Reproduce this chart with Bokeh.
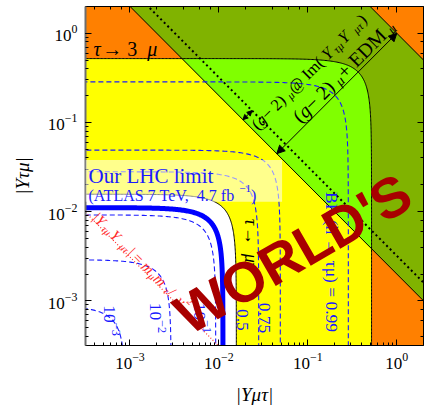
import numpy as np
from math import pi, cos, sin
from bokeh.plotting import figure
from bokeh.models import (Range1d, LogAxis, LogTicker, Label, Arrow, NormalHead, BoxAnnotation,
                          CustomJSTickFormatter)
from bokeh.embed import file_html
from bokeh.resources import INLINE

# ---------------------------------------------------------------- data
x_lim = (10**-3.5, 10**0.3)          # |Y_mu tau|
y_lim = (10**-3.5, 10**0.3)          # |Y_tau mu|

# BR(h -> tau mu) contours, given as sqrt(|Y_mt|^2 + |Y_tm|^2)
br_exponents = [-3, -2, -1]          # labelled as powers of ten
br_values = ["0.5", "0.75", "0.99"]  # labelled as plain numbers
br_radius = [0.00088, 0.0029, 0.0092, 0.028, 0.049, 0.285]

lhc_limit_radius = 0.0111            # our LHC limit
tau_mugamma_radius = 0.0157          # tau -> mu gamma
tau_3mu_radius = 0.52                # tau -> 3 mu
g2_products = [2.0e-3, 1.0]          # |Y_tm Y_mt| band, (g-2)_mu + EDM_mu
g2_central_product = 3.2e-3          # dotted central line
natural_product = 3.1e-6             # m_mu m_tau / v^2

# ---------------------------------------------------------------- style
YELLOW, ORANGE = "#FFFF00", "#FF8000"
LIGHT_GREEN, DARK_GREEN = "#80FF00", "#80B300"
BLUE, RED, WATERMARK = "#1a1aff", "#ff2a2a", "#a80000"
SERIF = "Liberation Serif"

p = figure(width=424, height=407, x_axis_type="log", y_axis_type="log",
           x_range=Range1d(*x_lim), y_range=Range1d(*y_lim),
           output_backend="svg", toolbar_location=None,
           min_border_left=85, min_border_right=1, min_border_top=6, min_border_bottom=60)
p.grid.visible = False
p.background_fill_color = YELLOW
p.outline_line_color = "black"

FAR_LO, FAR_HI = 1e-7, 1e4


def quarter_arc(r, t0=-7.0, t1=7.0, n=900):
    """Arc of x^2 + y^2 = r^2, sampled evenly in log(tan theta)."""
    th = np.arctan(10.0 ** np.linspace(t0, t1, n))
    return r * np.cos(th), r * np.sin(th)


# tau -> 3 mu excluded: outside the big circle
ax_, ay_ = quarter_arc(tau_3mu_radius)
p.patch(list(ax_) + [FAR_LO, FAR_HI, FAR_HI], list(ay_) + [FAR_HI, FAR_HI, FAR_LO],
        fill_color=ORANGE, line_color=None)

# (g-2) band between the two hyperbolas
k1, k2 = g2_products
bx = [1e-5, 1e2, 1e2, 1e-5]
by = [k2 / 1e-5, k2 / 1e2, k1 / 1e2, k1 / 1e-5]
p.patch(bx, by, fill_color=DARK_GREEN, line_color=None)

# part of the band inside the tau -> 3 mu circle
th1 = 0.5 * np.arcsin(2 * k1 / tau_3mu_radius**2)
gx, gy = quarter_arc(tau_3mu_radius, np.log10(np.tan(th1)), np.log10(np.tan(pi / 2 - th1)))
p.patch(list(gx), list(gy), fill_color=LIGHT_GREEN, line_color=None)

# tau -> mu gamma allowed region
wx, wy = quarter_arc(tau_mugamma_radius)
p.patch(list(wx) + [FAR_LO], list(wy) + [FAR_LO], fill_color="white", line_color=None)

# boundaries
p.line(ax_, ay_, line_color="black", line_width=1)
p.line(wx, wy, line_color="black", line_width=1)
for k in g2_products:
    p.line([1e-5, 1e2], [k / 1e-5, k / 1e2], line_color="black", line_width=1)
p.line([1e-5, 1e2], [g2_central_product / 1e-5, g2_central_product / 1e2],
       line_color="black", line_width=2, line_dash="2 3")

# BR(h -> tau mu) contours and our limit
for r in br_radius:
    cx, cy = quarter_arc(r)
    p.line(cx, cy, line_color=BLUE, line_width=1.1, line_dash="5 3")
lx, ly = quarter_arc(lhc_limit_radius)
p.line(lx, ly, line_color="#0000ff", line_width=5)

# |Y_tm Y_mt| = m_mu m_tau / v^2
p.line([1e-5, 1e2], [natural_product / 1e-5, natural_product / 1e2],
       line_color=RED, line_width=1.2, line_dash="1 2")

# legend box for our limit
p.add_layout(BoxAnnotation(left=x_lim[0], right=10**-1.29, bottom=10**-1.89, top=10**-1.42,
                           fill_color="white", fill_alpha=0.55, line_color=None))

# arrows across the (g-2) band
s1 = float(np.sqrt(k1))
s2 = float(np.sqrt(k2))
p.add_layout(Arrow(x_start=s1, y_start=s1, x_end=s2, y_end=s2,
                   start=NormalHead(size=8, fill_color="black", line_color="black"),
                   end=NormalHead(size=8, fill_color="black", line_color="black"),
                   line_width=1))
a0 = 10**-1.73
d = float(np.sqrt(g2_central_product / k1))
p.add_layout(Arrow(x_start=a0, y_start=k1 / a0, x_end=a0 * d, y_end=k1 / a0 * d,
                   start=NormalHead(size=5, fill_color="black", line_color="black"),
                   end=NormalHead(size=5, fill_color="black", line_color="black"),
                   line_width=1))

# ---------------------------------------------------------------- text
WIDTHS = {c: 0.5 for c in "0123456789"}
WIDTHS.update({" ": 0.25, "\u00a0": 0.25, "(": 0.333, ")": 0.333, "|": 0.2, "−": 0.564, "+": 0.564,
               "=": 0.564, "/": 0.278, "@": 0.921, ".": 0.25, ",": 0.25, "→": 1.0,
               "τ": 0.44, "μ": 0.56, "γ": 0.47,
               "A": 0.722, "B": 0.667, "C": 0.667, "D": 0.722, "E": 0.611, "H": 0.722,
               "I": 0.333, "L": 0.611, "M": 0.889, "O": 0.722, "R": 0.667, "S": 0.556,
               "T": 0.611, "V": 0.722, "Y": 0.722, "b": 0.5, "e": 0.444, "f": 0.333,
               "g": 0.5, "h": 0.5, "i": 0.278, "l": 0.278, "m": 0.778, "r": 0.333,
               "t": 0.278, "u": 0.5, "v": 0.5})


def N(t): return (t, 1.0, 0.0, False)
def I(t): return (t, 1.0, 0.0, True)
def SUB(t): return (t, 0.7, -0.22, True)
def SUP(t): return (t, 0.7, 0.42, False)


def rich(x, y, segs, size, color, angle=0.0, along=0.0, perp=0.0, align="left"):
    """Place a run of text pieces (with sub/superscripts) along a rotated baseline."""
    ca, sa = cos(angle), sin(angle)
    widths = [sum(WIDTHS.get(c, 0.5) for c in t) * size * sc for t, sc, _, _ in segs]
    pos = along - (sum(widths) / 2 if align == "center" else 0.0)
    for (t, sc, rise, it), w in zip(segs, widths):
        rr = perp + rise * size
        p.add_layout(Label(x=float(x), y=float(y),
                           x_offset=round(pos * ca - rr * sa, 2), y_offset=round(pos * sa + rr * ca, 2),
                           angle=angle, text=t, text_font=SERIF,
                           text_font_size=f"{size * sc:.1f}px",
                           text_font_style="italic" if it else "normal",
                           text_color=color, text_align="left", text_baseline="alphabetic"))
        pos += w


X0, Y0 = x_lim[0], y_lim[0]

rich(X0, tau_3mu_radius, [I("τ"), N(" → 3 "), I("μ")], 20, "black", along=8, perp=10)

rich(X0, lhc_limit_radius, [N("Our LHC limit")], 21, BLUE, along=3, perp=32)
rich(X0, lhc_limit_radius, [N("(ATLAS\u00a07\u00a0TeV,\u00a0\u00a04.7\u00a0fb"), SUP("−1"), N(")")],
     16, BLUE, along=3, perp=12)

br_label_y = [10**-3.05, 10**-3.02, 10**-3.02, 10**-3.09, 10**-3.02, 10**-1.78]
br_segs = [[N("10"), SUP("−%d" % -e)] for e in br_exponents]
br_segs += [[N(v)] for v in br_values[:-1]]
br_segs += [[N("BR\u00a0(h\u00a0→\u00a0τμ)\u00a0=\u00a0" + br_values[-1])]]
for r, yy, segs in zip(br_radius, br_label_y, br_segs):
    rich(r, yy, segs, 17.5, BLUE, angle=-pi / 2, perp=-16)

rich(tau_mugamma_radius, 10**-2.08, [I("τ"), N(" → "), I("μγ")], 18, "black", angle=-pi / 2, perp=15)

xr = 10**-3.45
rich(xr, natural_product / xr,
     [N("|"), I("Y"), SUB("τμ"), I(" Y"), SUB("μτ"), N("| = "), I("m"), SUB("μ"), I(" m"), SUB("τ"),
      N(" / "), I("v"), SUP("2")], 15, RED, angle=-pi / 4, along=3, perp=5)

rich(s1, s1, [N("("), I("g"), N(" − 2)"), SUB("μ"), N(" + EDM"), SUB("μ")], 20, "black",
     angle=pi / 4, along=38, perp=11)
rich(s1, s1, [N("("), I("g"), N(" − 2)"), SUB("μ"), N(" @ Im("), I("Y"), SUB("τμ"), I(" Y"),
              SUB("μτ"), N(")")], 16.5, "black", angle=pi / 4, along=3, perp=35)

# watermark
p.add_layout(Label(x=10**-1.17, y=10**-2.47, text="WORLD'S", angle=30 * pi / 180,
                   text_font="Liberation Sans", text_font_style="bold", text_font_size="56px",
                   text_color=WATERMARK, text_align="center", text_baseline="middle"))

# ---------------------------------------------------------------- axes
p.add_layout(LogAxis(ticker=LogTicker(), formatter=CustomJSTickFormatter(code="return ''")), "right")
p.add_layout(LogAxis(ticker=LogTicker(), formatter=CustomJSTickFormatter(code="return ''")), "above")
for ax in p.axis:
    ax.major_tick_in, ax.major_tick_out = 6, 0
    ax.minor_tick_in, ax.minor_tick_out = 3, 0
    ax.axis_line_color = "black"
    ax.major_tick_line_color = "black"
    ax.minor_tick_line_color = "black"
    ax.major_label_text_font = SERIF
    ax.major_label_text_font_size = "17px"
    ax.major_label_text_color = "black"
for ax in p.right + p.above:
    ax.major_label_standoff = 0

left_axis, bottom_axis = p.left[0], p.below[0]
left_axis.axis_line_color = "#6e6e6e"
left_axis.axis_line_width = 2
for ax, title in ((left_axis, "|Yτμ|"), (bottom_axis, "|Yμτ|")):
    ax.axis_label = title
    ax.axis_label_text_font = SERIF
    ax.axis_label_text_font_style = "italic"
    ax.axis_label_text_font_size = "19px"
    ax.axis_label_text_color = "black"
left_axis.major_label_standoff = 8
left_axis.axis_label_standoff = 12
bottom_axis.major_label_standoff = 7
bottom_axis.axis_label_standoff = 12

open("out.html", "w").write(file_html(p, INLINE))
